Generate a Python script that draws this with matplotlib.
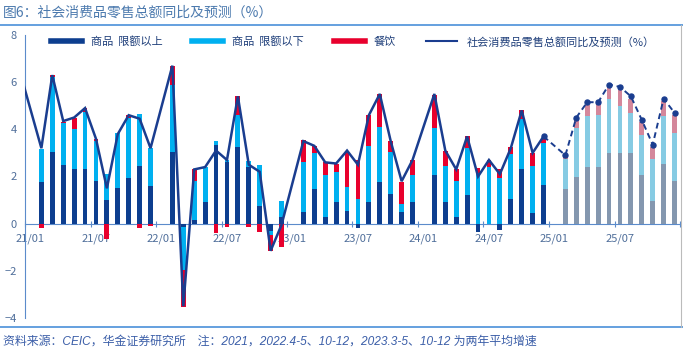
import numpy as np
import matplotlib
matplotlib.use("Agg")
import matplotlib.pyplot as plt
from matplotlib.lines import Line2D

plt.rcParams['font.family'] = ['Noto Sans CJK SC', 'DejaVu Sans']

# 月份 21/01 - 25/12，每年1月没有单独数据
months = [f"{y}/{m:02d}" for y in range(21, 26) for m in range(1, 13)]

# 商品 限额以上
above = [None, 1.75, 3.05, 2.5, 2.3, 2.3, 1.8, 1.0, 1.5, 1.95, 2.45, 1.6,
         None, 3.05, -0.15, 0.15, 0.9, 3.35, 2.6, 3.25, 2.4, 0.75, -0.3, 0.3,
         None, 0.5, 1.45, 0.3, 0.9, 0.55, -0.2, 0.9, 1.75, 1.25, 0.5, 0.9,
         None, 2.05, 0.9, 0.3, 1.2, -0.35, 0.0, -0.25, 1.05, 2.3, 0.45, 1.65,
         None, 1.45, 2.0, 2.4, 2.4, 3.0, 3.0, 3.0, 2.05, 0.95, 2.55, 1.8]
# 商品 限额以下
below = [None, 1.4, 3.15, 1.78, 1.7, 2.45, 1.7, 1.1, 2.35, 2.55, 2.2, 1.6,
         None, 2.85, -1.8, 1.65, 1.5, 0.15, 0.1, 1.35, 0.25, 1.75, -0.2, 0.65,
         None, 2.1, 1.55, 1.75, 1.3, 1.0, 1.05, 2.4, 2.35, 1.8, 0.35, 1.15,
         None, 2.0, 1.55, 1.5, 2.0, 2.15, 2.4, 1.95, 1.9, 2.15, 2.0, 1.75,
         None, 1.3, 2.05, 2.15, 2.2, 2.3, 2.0, 1.7, 1.7, 1.8, 2.0, 2.05]
# 餐饮
catering = [None, -0.2, 0.1, 0.05, 0.5, 0.15, 0.1, -0.65, 0.0, 0.1, -0.2, -0.1,
            None, 0.8, -1.6, 0.5, 0.0, -0.4, -0.15, 0.8, -0.15, -0.35, -0.65, -1.0,
            None, 0.95, 0.3, 0.55, 0.35, 1.55, 1.65, 1.3, 1.4, 0.45, 0.9, 0.65,
            None, 1.4, 0.65, 0.5, 0.5, 0.2, 0.3, 0.35, 0.3, 0.35, 0.55, 0.25,
            None, 0.1, 0.4, 0.5, 0.5, 0.5, 0.75, 0.6, 0.55, 0.5, 0.65, 0.75]
# 社会消费品零售总额同比及预测
total = [None, 3.2, 6.3, 4.35, 4.5, 4.9, 3.6, 1.5, 3.8, 4.6, 4.45, 3.2,
         None, 6.7, -3.5, 2.3, 2.4, 3.1, 2.7, 5.4, 2.5, 2.2, -1.15, -0.05,
         None, 3.5, 3.3, 2.6, 2.55, 3.1, 2.5, 4.6, 5.5, 3.5, 1.8, 2.7,
         None, 5.5, 3.1, 2.3, 3.7, 2.0, 2.7, 2.1, 3.2, 4.8, 3.0, 3.7,
         None, 2.9, 4.5, 5.15, 5.15, 5.9, 5.8, 5.4, 4.4, 3.35, 5.3, 4.7]
total_2012 = 6.5   # 20/12，左边界外的一点
forecast_from = 49  # 25/02 起为预测

colors_act = ['#0D3E8F', '#00B0F0', '#E8002D']
colors_fc = ['#8497AF', '#86CBE3', '#D4879B']
line_color = '#1A3D8F'
text_color = '#4F6E9A'
axis_color = '#5B8BCB'

n = len(months)
x = np.arange(n)
series = [np.array(s, dtype=float) for s in (above, below, catering)]
labels = ['商品  限额以上', '商品  限额以下', '餐饮']

fig = plt.figure(figsize=(6.83, 3.60), dpi=100)
ax = fig.add_axes([25 / 683, 1 - 318 / 360, 655 / 683, 283 / 360])

pos = np.zeros(n)
neg = np.zeros(n)
for k, s in enumerate(series):
    vals = np.nan_to_num(s)
    bottom = np.where(vals >= 0, pos, neg)
    cols = [colors_fc[k] if i >= forecast_from else colors_act[k] for i in range(n)]
    ax.bar(x, s, bottom=bottom, width=0.44, color=cols, linewidth=0, zorder=2)
    pos += np.where(vals > 0, vals, 0)
    neg += np.where(vals < 0, vals, 0)

# 实际值：实线
tot = np.array(total, dtype=float)
act_idx = [i for i in range(forecast_from) if not np.isnan(tot[i])]
ax.plot([-1] + act_idx, [total_2012] + [tot[i] for i in act_idx],
        color=line_color, lw=1.8, zorder=3, solid_joinstyle='miter')
# 预测：虚线加圆点
last_act = act_idx[-1]
fc_idx = [last_act] + [i for i in range(forecast_from, n) if not np.isnan(tot[i])]
ax.plot(fc_idx, [tot[i] for i in fc_idx], color=line_color, lw=1.4,
        ls=(0, (3, 2)), marker='o', ms=3.6, zorder=3)

ax.set_xlim(-0.5, n - 0.5)
ax.set_ylim(-4, 8)

for side in ['top', 'right']:
    ax.spines[side].set_visible(False)
ax.spines['bottom'].set_position(('data', 0))
ax.spines['bottom'].set_color(axis_color)
ax.spines['left'].set_color(axis_color)
ax.spines['bottom'].set_zorder(1)

ax.set_xticks(np.arange(-0.5, n, 6))
ax.set_xticklabels([])
ax.set_xticks(np.arange(0, n, 6), minor=True)
ax.set_xticklabels(months[::6], minor=True)
ax.tick_params(axis='x', which='major', direction='inout', length=5, color=axis_color)
ax.tick_params(axis='x', which='minor', length=0, pad=7, labelsize=8, labelcolor=text_color)

ax.set_yticks(range(-4, 9, 2))
ax.tick_params(axis='y', length=0, pad=6, labelsize=8, labelcolor=text_color)

handles = [Line2D([], [], color=colors_act[k], lw=4) for k in range(3)]
handles.append(Line2D([], [], color=line_color, lw=1.5))
ax.legend(handles, labels + ['社会消费品零售总额同比及预测（%）'], loc='upper center',
          bbox_to_anchor=(0.5, 1.03), ncol=4, frameon=False, fontsize=8,
          handlelength=2.8, columnspacing=2.7, labelcolor='#1F3F7A')

fig.text(3 / 683, 1 - 13 / 360, '图6：社会消费品零售总额同比及预测（%）', fontsize=10,
         color='#4C7AAE', va='center', ha='left')
fig.add_artist(Line2D([0, 1], [1 - 25 / 360, 1 - 25 / 360], color='#4A90D9', lw=1.2))
fig.add_artist(Line2D([0, 1], [1 - 327 / 360, 1 - 327 / 360], color='#4A90D9', lw=1.2))
fig.add_artist(Line2D([681 / 683, 681 / 683], [1 - 327 / 360, 1 - 25 / 360], color='#BBBBBB', lw=0.8))
fig.text(3 / 683, 1 - 342 / 360,
         '资料来源：CEIC，华金证券研究所　注：2021，2022.4-5、10-12，2023.3-5、10-12 为两年平均增速',
         fontsize=8.6, color='#3B5EA8', style='italic', va='center', ha='left',
         family=['Liberation Sans', 'Noto Sans CJK SC'])

fig.savefig('out.png', dpi=100)
